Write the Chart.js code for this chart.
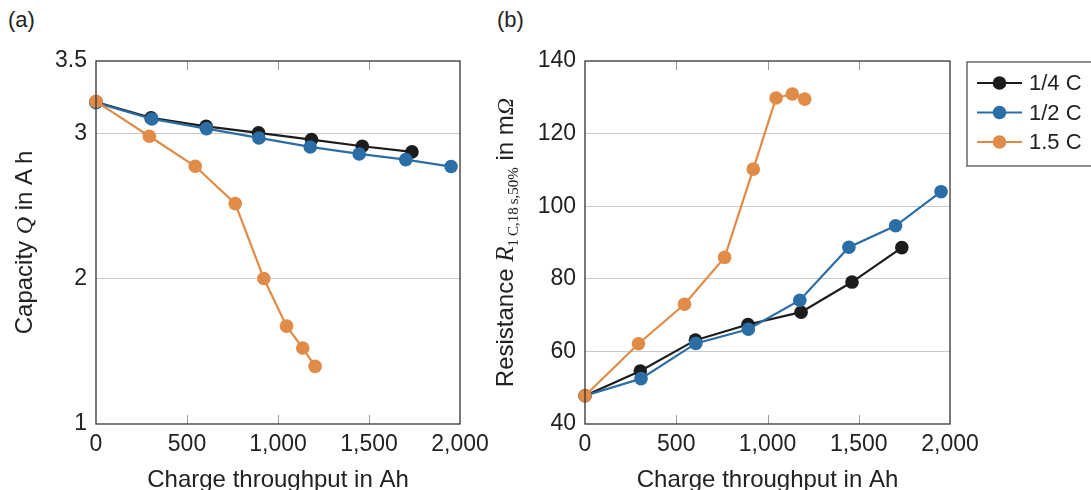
<!DOCTYPE html>
<html>
<head>
<meta charset="utf-8">
<script src="https://cdn.jsdelivr.net/npm/chart.js@4.4.0/dist/chart.umd.min.js"></script>
<style>
  html, body { margin: 0; padding: 0; background: #fff; }
  #wrap { position: relative; width: 1091px; height: 490px; overflow: hidden; font-family: "Liberation Sans", Arial, sans-serif; }
  .pl { position: absolute; top: 7px; font-size: 22px; color: #222; }
  #chartA { position: absolute; left: 0; top: 0; }
  #chartB { position: absolute; left: 490px; top: 0; }
</style>
</head>
<body>
<div id="wrap">
  <div class="pl" style="left:8px">(a)</div>
  <div class="pl" style="left:497px">(b)</div>
  <canvas id="chartA" width="490" height="490"></canvas>
  <canvas id="chartB" width="601" height="490"></canvas>
</div>
<script>
// data
var seriesNames = ["1/4 C", "1/2 C", "1.5 C"];
var seriesColors = ["#1c1c1c", "#2b6ea5", "#e08c48"];

var xQuarter = [0, 303, 605, 893, 1184, 1463, 1736];
var xHalf = [0, 307, 607, 895, 1177, 1446, 1702, 1951];
var xOnePointFive = [0, 293, 545, 765, 922, 1047, 1136, 1204];

var capQuarter = [3.218, 3.108, 3.050, 3.005, 2.959, 2.913, 2.874];
var capHalf = [3.213, 3.101, 3.034, 2.970, 2.908, 2.860, 2.821, 2.773];
var capOnePointFive = [3.222, 2.982, 2.775, 2.518, 2.002, 1.674, 1.523, 1.397];

var resQuarter = [47.8, 54.6, 63.1, 67.4, 70.8, 79.1, 88.6];
var resHalf = [47.8, 52.5, 62.2, 66.1, 74.1, 88.7, 94.6, 104.0];
var resOnePointFive = [47.8, 62.1, 73.0, 85.9, 110.2, 129.8, 130.9, 129.5];

var xTicks = [0, 500, 1000, 1500, 2000];
var capTicks = [1, 2, 3, 3.5];
var resTicks = [40, 60, 80, 100, 120, 140];

var FONT = '"Liberation Sans", Arial, sans-serif';
var SERIF = '"Liberation Serif", "DejaVu Serif", serif';

function pts(xs, ys) {
  return xs.map(function (x, i) { return { x: x, y: ys[i] }; });
}

function ds(i, xs, ys) {
  return {
    label: seriesNames[i],
    data: pts(xs, ys),
    borderColor: seriesColors[i],
    backgroundColor: seriesColors[i],
    pointBackgroundColor: seriesColors[i],
    borderWidth: 2.2,
    pointRadius: 6.8,
    pointBorderWidth: 0,
    tension: 0,
    clip: false,
    order: 3 - i
  };
}

// box, inward ticks, axis titles (mixed fonts), legend
var decor = {
  id: 'decor',
  afterDraw: function (chart, args, opts) {
    var ctx = chart.ctx, a = chart.chartArea, xs = chart.scales.x;
    ctx.save();
    ctx.strokeStyle = '#999';
    ctx.lineWidth = 1;
    xTicks.slice(1, -1).forEach(function (v) {
      var px = Math.round(xs.getPixelForValue(v)) + 0.5;
      ctx.beginPath();
      ctx.moveTo(px, a.top); ctx.lineTo(px, a.top + 9);
      ctx.moveTo(px, a.bottom); ctx.lineTo(px, a.bottom - 9);
      ctx.stroke();
    });
    ctx.strokeStyle = '#333';
    ctx.lineWidth = 1.3;
    ctx.strokeRect(a.left, a.top, a.right - a.left, a.bottom - a.top);

    // x title
    ctx.fillStyle = '#222';
    ctx.font = '24px ' + FONT;
    ctx.textAlign = 'center';
    ctx.textBaseline = 'alphabetic';
    ctx.fillText('Charge throughput in Ah', (a.left + a.right) / 2, 487);

    // y title, rotated
    var segs = opts.ytitle;
    var total = 0;
    segs.forEach(function (s) { ctx.font = s.font; s.w = ctx.measureText(s.t).width; total += s.w; });
    ctx.translate(opts.ybase, (a.top + a.bottom) / 2);
    ctx.rotate(-Math.PI / 2);
    ctx.textAlign = 'left';
    var cx = -total / 2;
    segs.forEach(function (s) {
      ctx.font = s.font;
      ctx.fillText(s.t, cx, s.dy || 0);
      cx += s.w;
    });
    ctx.restore();

    if (opts.legend) {
      var L = opts.legend;
      ctx.save();
      ctx.strokeStyle = '#444';
      ctx.lineWidth = 1.2;
      ctx.strokeRect(L.x, L.y, L.w, L.h);
      ctx.font = '22px ' + FONT;
      ctx.textBaseline = 'middle';
      ctx.textAlign = 'left';
      seriesNames.forEach(function (name, i) {
        var y = L.y + 21 + i * 29.5;
        ctx.strokeStyle = seriesColors[i];
        ctx.lineWidth = 2.2;
        ctx.beginPath();
        ctx.moveTo(L.x + 10, y); ctx.lineTo(L.x + 55, y);
        ctx.stroke();
        ctx.fillStyle = seriesColors[i];
        ctx.beginPath();
        ctx.arc(L.x + 32.5, y, 6.8, 0, Math.PI * 2);
        ctx.fill();
        ctx.fillStyle = '#222';
        ctx.fillText(name, L.x + 62, y + 1);
      });
      ctx.restore();
    }
  }
};

function makeOptions(yMin, yMax, yTickList, padLeft, yWidth, padRight, decorOpts) {
  return {
    responsive: false,
    animation: false,
    layout: { padding: { left: padLeft, top: 61, right: padRight, bottom: 0 } },
    plugins: { legend: { display: false }, tooltip: { enabled: false }, decor: decorOpts },
    scales: {
      x: {
        type: 'linear', min: 0, max: 2000,
        afterBuildTicks: function (s) { s.ticks = xTicks.map(function (v) { return { value: v }; }); },
        afterFit: function (s) { s.height = 66; },
        grid: { display: false },
        border: { display: false },
        ticks: { color: '#222', padding: -1, maxRotation: 0, font: { family: FONT, size: 23 } }
      },
      y: {
        type: 'linear', min: yMin, max: yMax,
        afterBuildTicks: function (s) { s.ticks = yTickList.map(function (v) { return { value: v }; }); },
        afterFit: function (s) { s.width = yWidth; },
        grid: {
          drawTicks: false,
          color: function (c) {
            var v = c.tick && c.tick.value;
            return (v === yMin || v === yMax) ? 'rgba(0,0,0,0)' : '#c8c8c8';
          }
        },
        border: { display: false },
        ticks: { color: '#222', padding: 9, font: { family: FONT, size: 23 } }
      }
    }
  };
}

new Chart(document.getElementById('chartA').getContext('2d'), {
  type: 'line',
  data: { datasets: [ds(0, xQuarter, capQuarter), ds(1, xHalf, capHalf), ds(2, xOnePointFive, capOnePointFive)] },
  options: makeOptions(1, 3.5, capTicks, 40, 56, 30, {
    ybase: 32,
    ytitle: [
      { t: 'Capacity ', font: '24px ' + FONT },
      { t: 'Q', font: 'italic 24px ' + SERIF },
      { t: ' in A\u2009h', font: '24px ' + FONT }
    ]
  }),
  plugins: [decor]
});

new Chart(document.getElementById('chartB').getContext('2d'), {
  type: 'line',
  data: { datasets: [ds(0, xQuarter, resQuarter), ds(1, xHalf, resHalf), ds(2, xOnePointFive, resOnePointFive)] },
  options: makeOptions(40, 140, resTicks, 40, 55, 141, {
    ybase: 23,
    ytitle: [
      { t: 'Resistance ', font: '24px ' + FONT },
      { t: 'R', font: 'italic 25px ' + SERIF },
      { t: '1\u2009C,18\u2009s,50%', font: '15px ' + SERIF, dy: 5 },
      { t: ' in m', font: '24px ' + FONT },
      { t: '\u03A9', font: 'italic 24px ' + SERIF }
    ],
    legend: { x: 477, y: 62, w: 140, h: 104 }
  }),
  plugins: [decor]
});
</script>
</body>
</html>
